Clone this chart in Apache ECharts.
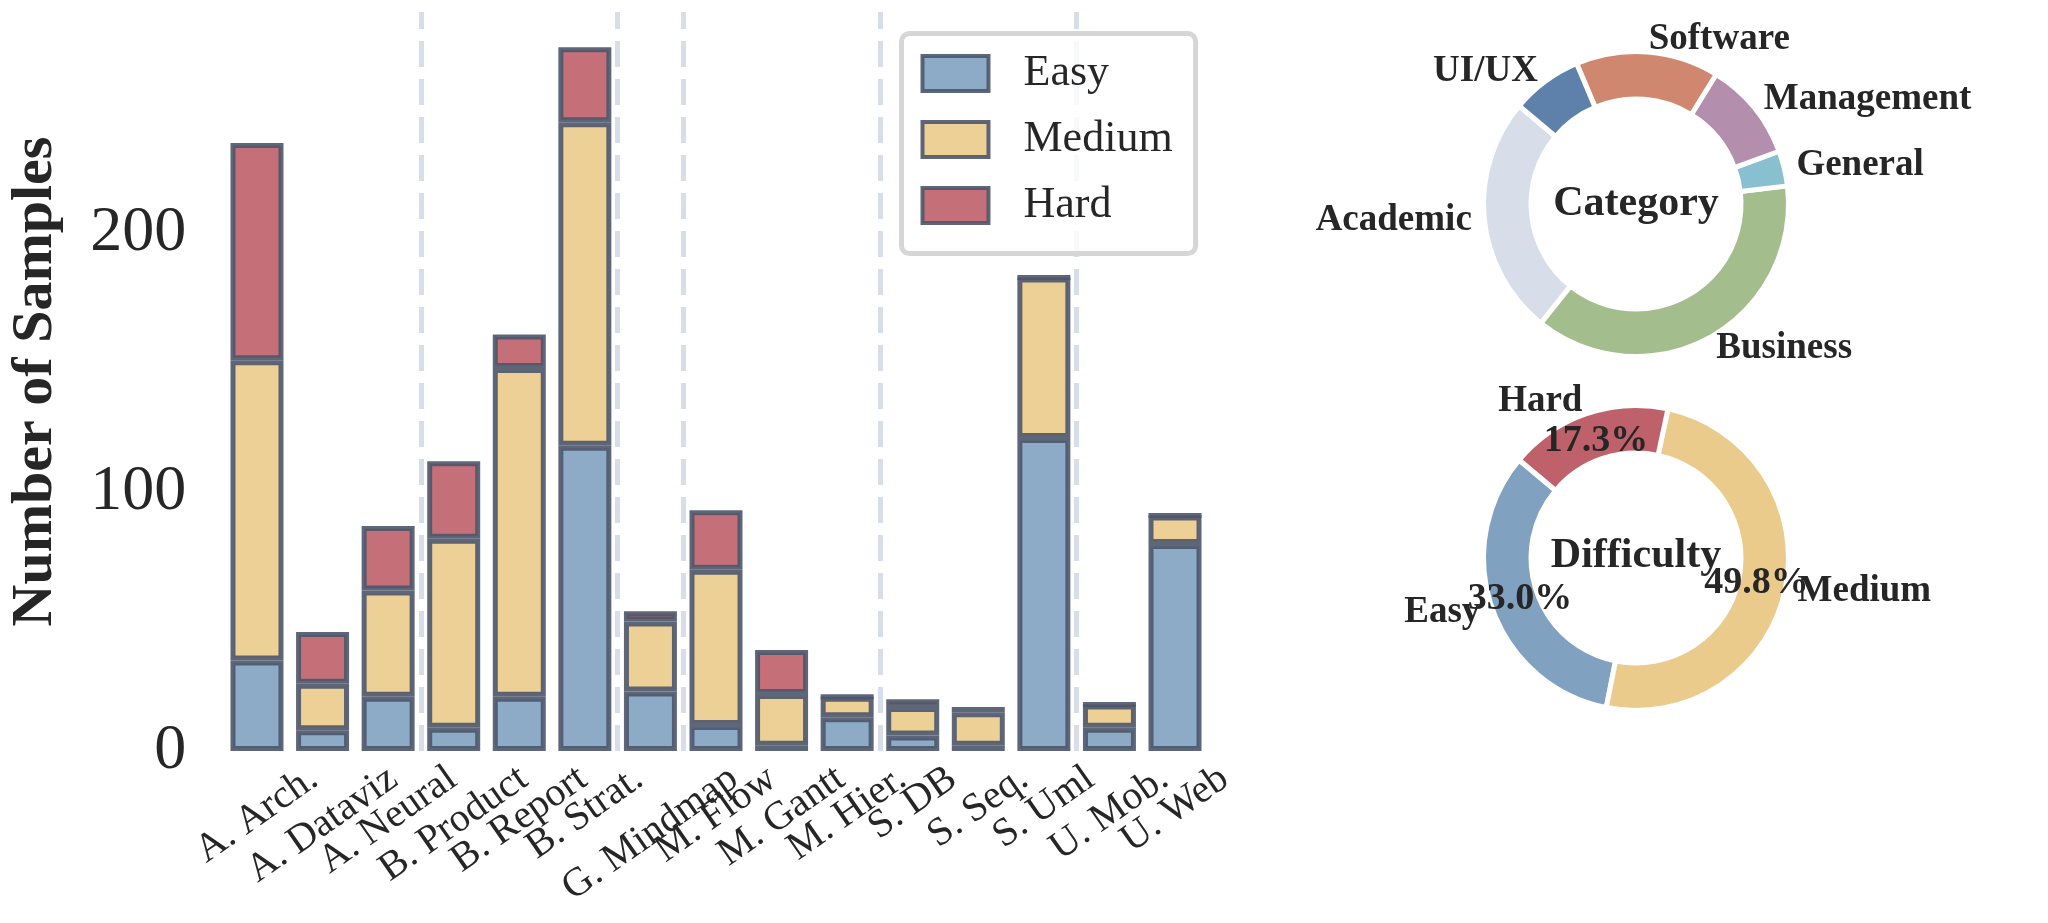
<!DOCTYPE html>
<html>
<head>
<meta charset="utf-8">
<script src="https://cdn.jsdelivr.net/npm/echarts@6/dist/echarts.min.js"></script>
<style>
html, body { margin: 0; padding: 0; background: #fff; }
#main { width: 2048px; height: 923px; }
</style>
</head>
<body>
<div id="main"></div>
<script>
var categories = ['A. Arch.', 'A. Dataviz', 'A. Neural', 'B. Product', 'B. Report', 'B. Strat.', 'G. Mindmap',
    'M. Flow', 'M. Gantt', 'M. Hier.', 'S. DB', 'S. Seq.', 'S. Uml', 'U. Mob.', 'U. Web'];
var easy = [35, 8, 21, 9, 21, 118, 23, 10, 2, 13, 6, 2, 121, 9, 80];
var medium = [116, 18, 41, 73, 127, 125, 27, 60, 20, 8, 11, 13, 62, 9, 11];
var hard = [84, 20, 25, 30, 13, 29, 4, 23, 17, 0, 3, 2, 0, 0, 0];
// dashed separators sit before these category indices
var groupStarts = [3, 6, 7, 10, 13];

var groupNames = ['Academic', 'Business', 'General', 'Management', 'Software', 'UI/UX'];
var groupValues = [368, 545, 54, 153, 220, 109];
var levelNames = ['Easy', 'Medium', 'Hard'];
var levelValues = [478, 721, 250];

var serif = '"Liberation Serif", "Times New Roman", serif';
var ink = '#262626';
var levelColors = ['#81a1c1', '#ebcb8b', '#bf616a'];
var groupColors = ['#d8dee9', '#a3be8c', '#88c0d0', '#b48ead', '#d08770', '#5e81ac'];

// matplotlib-like rotated tick labels: box centred on the tick, top edge a bit under the axis
var rot = 35 * Math.PI / 180;
var labelSize = 40;
var ctx = document.createElement('canvas').getContext('2d');
ctx.font = labelSize + 'px ' + serif;
var xData = categories.map(function (c) {
    var w = ctx.measureText(c).width;
    var d = Math.cos(rot) * (24 + w * Math.sin(rot) / 2);
    return {
        value: c,
        textStyle: {
            align: 'center',
            verticalAlign: 'top',
            lineHeight: labelSize,
            padding: [d - labelSize / 2, 2 * d * Math.tan(rot), 0, 0]
        }
    };
});

// one colour per drawn split line; the extra closing line is hidden
var splitColors = groupStarts.map(function () { return '#d8dee9'; }).concat(['rgba(0,0,0,0)']);

function barSeries(name, data, color) {
    return {
        name: name,
        type: 'bar',
        stack: 'total',
        data: data,
        barWidth: 53,
        itemStyle: { color: color, borderColor: '#4c566a', borderWidth: 5, opacity: 0.9 },
        emphasis: { disabled: true }
    };
}

var levelTotal = levelValues.reduce(function (a, b) { return a + b; }, 0);

function donut(center, names, values, colors) {
    return {
        type: 'pie',
        center: center,
        radius: [105, 152.5],
        startAngle: 140,
        clockwise: false,
        avoidLabelOverlap: false,
        labelLayout: { hideOverlap: false },
        emphasis: { disabled: true },
        itemStyle: { borderColor: '#fff', borderWidth: 5 },
        label: {
            show: true, position: 'outside', distanceToLabelLine: 0,
            fontFamily: serif, fontWeight: 'bold', fontSize: 37, color: ink
        },
        labelLine: { show: false, length: 12.5, length2: 0 },
        data: names.map(function (n, i) {
            return { name: n, value: values[i], itemStyle: { color: colors[i] } };
        })
    };
}

var myChart = echarts.init(document.getElementById('main'));
var option = {
    animation: false,
    title: [
        { text: 'Category', left: 1636, top: 204, padding: 0, textAlign: 'center', textVerticalAlign: 'middle',
          textStyle: { fontFamily: serif, fontWeight: 'bold', fontSize: 42, color: ink } },
        { text: 'Difficulty', left: 1636, top: 556, padding: 0, textAlign: 'center', textVerticalAlign: 'middle',
          textStyle: { fontFamily: serif, fontWeight: 'bold', fontSize: 42, color: ink } }
    ],
    legend: {
        data: levelNames,
        orient: 'vertical',
        left: 901.5,
        top: 33.5,
        itemWidth: 66,
        itemHeight: 35,
        itemGap: 22,
        icon: 'rect',
        padding: [18, 23, 26, 19],
        backgroundColor: 'rgba(255,255,255,0.8)',
        borderColor: '#d6d6d6',
        borderWidth: 5,
        borderRadius: 8,
        itemStyle: { borderWidth: 4, borderColor: '#4c566a' },
        textStyle: { fontFamily: serif, fontSize: 44, color: ink, lineHeight: 44, padding: [0, 0, 0, 30] }
    },
    grid: { left: 224.2, right: 840.2, top: 12, bottom: 172, outerBoundsMode: 'none' },
    xAxis: {
        type: 'category',
        data: xData,
        axisLine: { show: false },
        axisTick: { show: false },
        axisLabel: {
            interval: 0, rotate: 35, margin: 0,
            fontFamily: serif, fontSize: labelSize, color: ink
        },
        splitLine: {
            show: true,
            interval: function (index) { return groupStarts.indexOf(index) >= 0; },
            lineStyle: { color: splitColors, width: 5, type: [26, 12], dashOffset: 9 }
        }
    },
    yAxis: {
        type: 'value',
        min: 0,
        max: 285.6,
        interval: 100,
        axisLine: { show: false },
        axisTick: { show: false },
        splitLine: { show: false },
        axisLabel: {
            margin: 38, fontFamily: serif, fontSize: 64, color: ink,
            formatter: function (v) { return v % 100 === 0 ? String(v) : ''; }
        },
        name: 'Number of Samples',
        nameLocation: 'middle',
        nameGap: 159,
        nameTextStyle: { fontFamily: serif, fontWeight: 'bold', fontSize: 58, color: ink }
    },
    series: [
        barSeries('Easy', easy, levelColors[0]),
        barSeries('Medium', medium, levelColors[1]),
        barSeries('Hard', hard, levelColors[2]),
        donut([1636, 204], groupNames, groupValues, groupColors),
        donut([1636, 558], levelNames, levelValues, levelColors),
        {
            // percentage labels for the difficulty ring
            type: 'pie',
            center: [1636, 558],
            radius: [90, 150],
            startAngle: 140,
            clockwise: false,
            silent: true,
            avoidLabelOverlap: false,
            labelLayout: { hideOverlap: false },
            z: 5,
            itemStyle: { color: 'rgba(0,0,0,0)' },
            label: {
                show: true, position: 'inside',
                fontFamily: serif, fontWeight: 'bold', fontSize: 38, color: ink,
                formatter: function (p) { return (p.value / levelTotal * 100).toFixed(1) + '%'; }
            },
            labelLine: { show: false },
            data: levelNames.map(function (n, i) { return { name: n, value: levelValues[i] }; })
        }
    ]
};
myChart.setOption(option);
</script>
</body>
</html>
